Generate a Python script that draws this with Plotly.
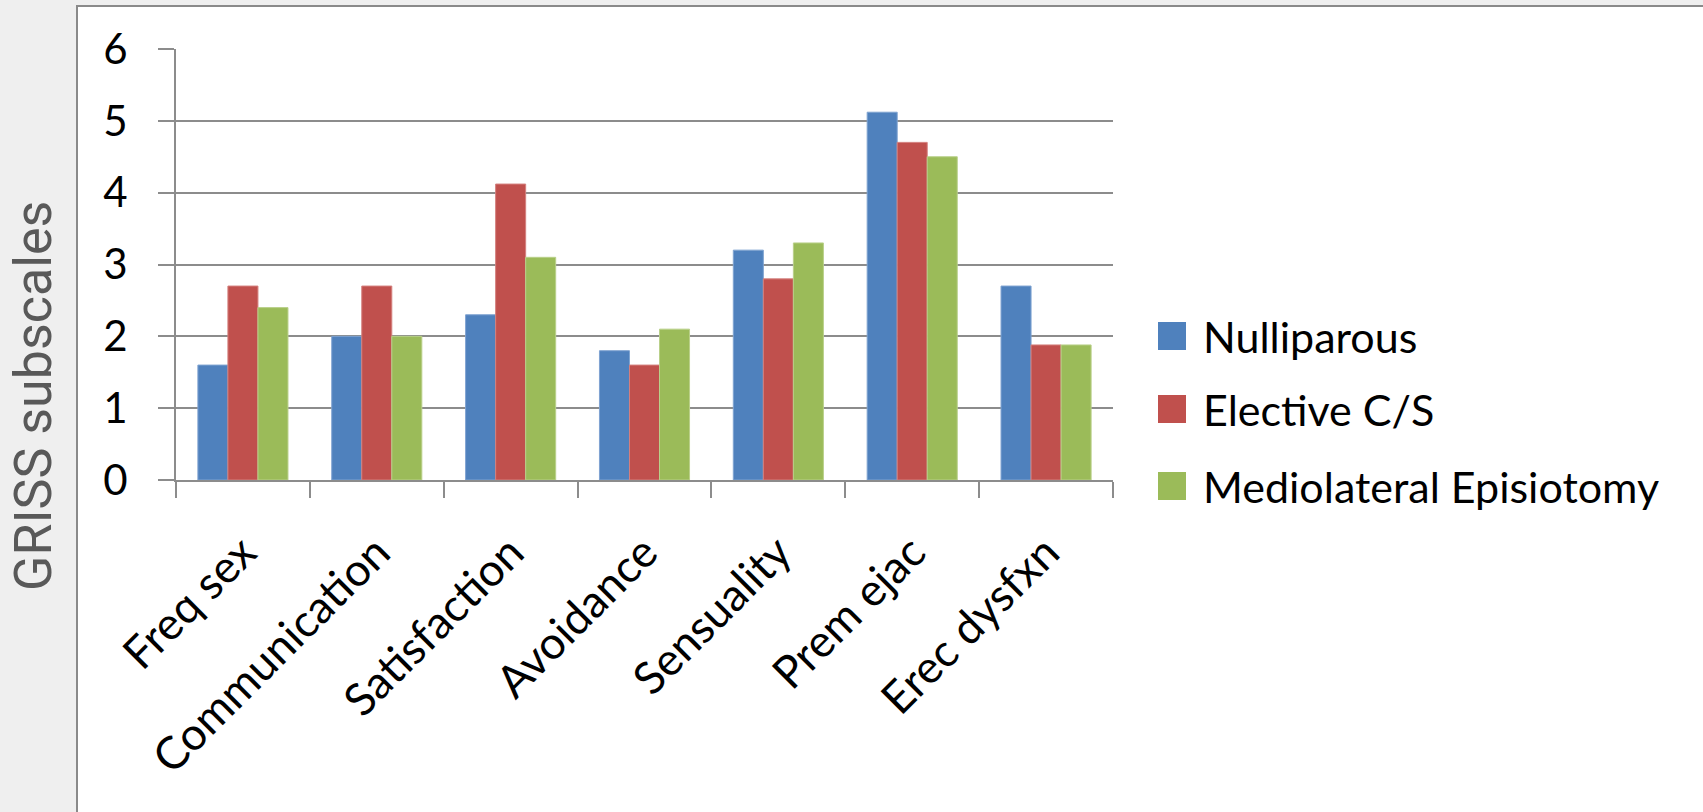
import plotly.graph_objects as go

# GRISS subscale scores by delivery group
categories = ["Freq sex", "Communication", "Satisfaction", "Avoidance",
              "Sensuality", "Prem ejac", "Erec dysfxn"]
nulliparous = [1.6, 2.0, 2.3, 1.8, 3.2, 5.12, 2.7]
elective_cs = [2.7, 2.7, 4.12, 1.6, 2.8, 4.7, 1.88]
mediolateral = [2.4, 2.0, 3.1, 2.1, 3.3, 4.5, 1.88]

series_names = ["Nulliparous", "Elective C/S", "Mediolateral Episiotomy"]
series_values = [nulliparous, elective_cs, mediolateral]
colors = ["#4f81bd", "#c0504d", "#9bbb59"]
edge_colors = ["#7fa3d1", "#d4807e", "#b9d08a"]
y_ticks = [0, 1, 2, 3, 4, 5, 6]

W, H = 1703, 812
L, R, T, B = 176, 590, 49, 332
pw, ph = W - L - R, H - T - B


def px_x(px):
    return (px - L) / pw


def px_y(py):
    return (H - B - py) / ph


grid = "#8c8c8c"
font_family = "Lato, Carlito, sans-serif"
tick_font = dict(family=font_family, size=42, color="#000000")
cat_font = dict(family=font_family, size=45, color="#000000")
legend_font = dict(family=font_family, size=43, color="#000000")

fig = go.Figure()
for name, vals, c, ec in zip(series_names, series_values, colors, edge_colors):
    fig.add_trace(go.Bar(
        x=categories, y=vals, name=name,
        marker=dict(color=c, line=dict(color=ec, width=1)),
        showlegend=False,
    ))

shapes = [
    # white chart panel with grey left/top frame
    dict(type="rect", xref="paper", yref="paper", layer="below",
         x0=px_x(77), x1=px_x(W + 20), y0=px_y(H + 20), y1=px_y(6),
         fillcolor="#ffffff", line=dict(color="#8a8a8a", width=2)),
]
annotations = [
    dict(text="GRISS subscales", xref="paper", yref="paper",
         x=px_x(33), y=px_y(396), textangle=-90, showarrow=False,
         xanchor="center", yanchor="middle",
         font=dict(family="Roboto, sans-serif", size=52, color="#595959")),
]

# legend: coloured squares with labels
leg_x0, leg_sq = 1158, 28
leg_centers = [336, 409, 486]
for name, c, cy in zip(series_names, colors, leg_centers):
    shapes.append(dict(type="rect", xref="paper", yref="paper",
                       x0=px_x(leg_x0), x1=px_x(leg_x0 + leg_sq),
                       y0=px_y(cy + leg_sq / 2), y1=px_y(cy - leg_sq / 2),
                       fillcolor=c, line=dict(width=0)))
    annotations.append(dict(text=name, xref="paper", yref="paper",
                            x=px_x(1201), y=px_y(cy), showarrow=False,
                            xanchor="left", yanchor="middle", font=legend_font))

fig.update_layout(
    width=W, height=H,
    margin=dict(l=L, r=R, t=T, b=B, pad=0),
    paper_bgcolor="#efefef",
    plot_bgcolor="rgba(0,0,0,0)",
    barmode="group",
    bargap=0.327,
    bargroupgap=0,
    shapes=shapes,
    annotations=annotations,
    xaxis=dict(
        type="category",
        tickangle=-45,
        tickson="boundaries",
        ticks="outside", ticklen=16, tickwidth=2, tickcolor=grid,
        showline=True, linecolor=grid, linewidth=2,
        showgrid=False,
        tickfont=cat_font,
        ticklabelstandoff=26,
    ),
    yaxis=dict(
        range=[0, 6],
        tickvals=y_ticks,
        ticks="outside", ticklen=16, tickwidth=2, tickcolor=grid,
        showline=True, linecolor=grid, linewidth=2,
        showgrid=True, gridcolor=grid, gridwidth=2,
        zeroline=False,
        tickfont=tick_font,
        ticklabelstandoff=22,
    ),
)

fig.write_html("out.html")
